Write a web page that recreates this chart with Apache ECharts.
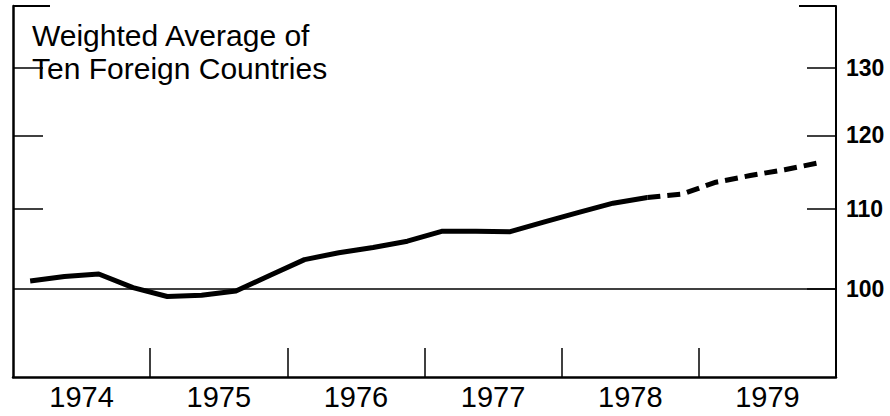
<!DOCTYPE html>
<html>
<head>
<meta charset="utf-8">
<style>
  html, body { margin: 0; padding: 0; background: #fff; }
  #chart { width: 890px; height: 416px; }
</style>
<script src="https://cdn.jsdelivr.net/npm/echarts@6.0.0/dist/echarts.min.js"></script>
</head>
<body>
<div id="chart"></div>
<script>
var years = [1974, 1975, 1976, 1977, 1978, 1979];
var yTicks = [100, 110, 120, 130];
var leftTicks = [110, 120, 130];
var titleText = 'Weighted Average of\nTen Foreign Countries';

// quarterly index values
var solidValues = [100.9, 101.45, 101.75, 100.1, 99.05, 99.2, 99.7, 101.6, 103.5, 104.35,
                   105.0, 105.8, 107.05, 107.05, 107.0, 108.25, 109.5, 110.7, 111.45];
var dashedValues = [111.45, 111.9, 113.5, 114.4, 115.2, 116.15];
var dashedStart = 18; // quarter index where dashed part begins (Q3 1978)

function quarterX(i) { return years[0] + (i + 0.5) / 4; }

var solidData = solidValues.map(function(v, i) { return [quarterX(i), v]; });
var dashedData = dashedValues.map(function(v, i) { return [quarterX(dashedStart + i), v]; });

var font = "'Liberation Sans', Arial, Helvetica, sans-serif";
var xMin = years[0], xMax = years[years.length - 1] + 1;
var yMin = 90, yMax = 140;

var chart = echarts.init(document.getElementById('chart'), null, { renderer: 'svg' });
chart.setOption({
  animation: false,
  grid: { left: 13, right: 54, top: 6, bottom: 39 },
  xAxis: {
    type: 'value',
    min: xMin, max: xMax,
    splitLine: { show: false },
    axisLine: { lineStyle: { color: '#000', width: 2.5 } },
    axisTick: {
      inside: true, length: 29,
      lineStyle: { color: '#000', width: 1.5 },
      customValues: years.slice(1)
    },
    axisLabel: {
      color: '#000', fontSize: 29, fontFamily: font, margin: 5,
      customValues: years.map(function(y) { return y + 0.5; }),
      formatter: function(v) { return String(Math.floor(v)); }
    }
  },
  yAxis: [{
    type: 'log', position: 'left',
    min: yMin, max: yMax,
    splitLine: { show: false },
    axisLine: { show: true, lineStyle: { color: '#000', width: 2.5 } },
    axisTick: { inside: true, length: 30, lineStyle: { color: '#000', width: 1.5 }, customValues: leftTicks },
    axisLabel: { show: false }
  }, {
    type: 'log', position: 'right',
    min: yMin, max: yMax,
    splitLine: { show: false },
    axisLine: { show: true, lineStyle: { color: '#000', width: 2 } },
    axisTick: { inside: true, length: 29, lineStyle: { color: '#000', width: 1.5 }, customValues: yTicks },
    axisLabel: {
      color: '#000', fontSize: 23, fontWeight: 'bold', fontFamily: font, margin: 10,
      customValues: yTicks
    }
  }],
  series: [{
    type: 'line',
    yAxisIndex: 1,
    data: solidData,
    showSymbol: false,
    lineStyle: { color: '#000', width: 5, join: 'round' },
    markLine: {
      silent: true,
      symbol: 'none',
      label: { show: false },
      lineStyle: { color: '#000', width: 1.5, type: 'solid' },
      data: [{ yAxis: 100 }]
    }
  }, {
    type: 'line',
    yAxisIndex: 1,
    data: dashedData,
    showSymbol: false,
    lineStyle: { color: '#000', width: 5, type: [13, 7], cap: 'butt' }
  }]
});

// short top corner strokes of the frame
var tl = chart.convertToPixel({ gridIndex: 0 }, [xMin, yMax]);
var tr = chart.convertToPixel({ gridIndex: 0 }, [xMax, yMax]);
chart.setOption({
  graphic: [
    { type: 'line', shape: { x1: tl[0], y1: tl[1], x2: tl[0] + 37, y2: tl[1] }, style: { stroke: '#000', lineWidth: 2 } },
    { type: 'line', shape: { x1: tr[0] - 37, y1: tr[1], x2: tr[0], y2: tr[1] }, style: { stroke: '#000', lineWidth: 2 } },
    { type: 'text', left: 32, top: 19, style: { text: titleText, font: '30px ' + font, fill: '#000', lineHeight: 33 } }
  ]
});
window.addEventListener('resize', function() { chart.resize(); });
</script>
</body>
</html>
